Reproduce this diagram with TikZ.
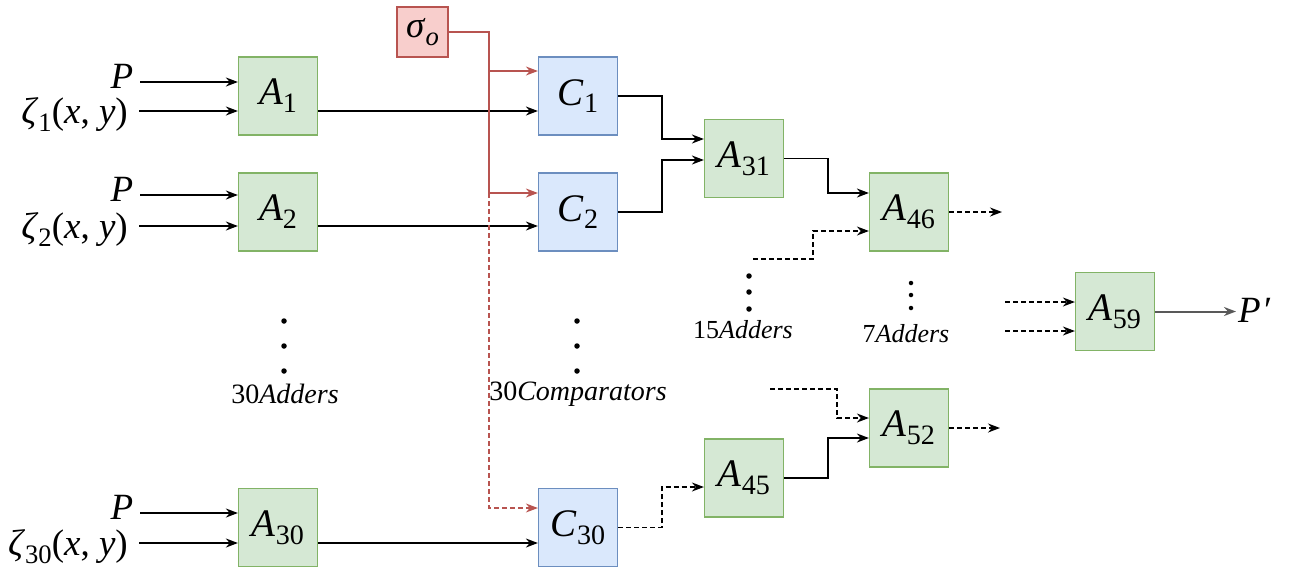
\documentclass[tikz,border=0pt]{standalone}
\usepackage{fontspec}
\setmainfont{Liberation Serif}
\usetikzlibrary{arrows.meta}
\definecolor{gfill}{HTML}{D5E8D4}
\definecolor{gdraw}{HTML}{82B366}
\definecolor{bfill}{HTML}{DAE8FC}
\definecolor{bdraw}{HTML}{6C8EBF}
\definecolor{rfill}{HTML}{F8CECC}
\definecolor{rdraw}{HTML}{B85450}
\newcommand\sbs[1]{\raisebox{-0.2em}{\scalebox{0.72}{#1}}}
\tikzset{
  box/.style={draw, line width=1.2pt, minimum width=79pt, minimum height=78pt, inner sep=0pt, font=\fontsize{39}{40}\selectfont},
  adder/.style={box, fill=gfill, draw=gdraw},
  comp/.style={box, fill=bfill, draw=bdraw},
  sig/.style={draw=rdraw, fill=rfill, line width=1.2pt, minimum width=51pt, minimum height=50pt, inner sep=0pt, font=\fontsize{37}{38}\selectfont},
  arr/.style={line width=1.7pt, -{Stealth[length=12pt,width=9pt]}},
  dasharr/.style={arr, line width=1.4pt, dash pattern=on 5pt off 3pt},
  redline/.style={line width=1.7pt, draw=rdraw},
  redarr/.style={line width=1.6pt, draw=rdraw, -{Stealth[length=12pt,width=9pt]}},
  lab/.style={font=\fontsize{37}{38}\selectfont, inner xsep=5pt, inner ysep=0pt},
  small/.style={font=\fontsize{28}{30}\selectfont, inner sep=0pt},
  bigdot/.style={circle, fill=black, inner sep=0pt, minimum size=5.5pt},
  smalldot/.style={circle, fill=black, inner sep=0pt, minimum size=4.5pt},
}
\begin{document}
\begin{tikzpicture}[x=1pt,y=-1pt]
\useasboundingbox (0,0) rectangle (1291,571);

% boxes
\node[adder] (A1) at (278,96) {\textit{A}\sbs{1}};
\node[adder] (A2) at (278,212) {\textit{A}\sbs{2}};
\node[adder] (A30) at (278,527.5) {\textit{A}\sbs{30}};
\node[comp] (C1) at (578,96) {\textit{C}\sbs{1}};
\node[comp] (C2) at (578,212) {\textit{C}\sbs{2}};
\node[comp] (C30) at (578,527.5) {\textit{C}\sbs{30}};
\node[adder] (A31) at (744,158.5) {\textit{A}\sbs{31}};
\node[adder] (A46) at (909,212) {\textit{A}\sbs{46}};
\node[adder] (A45) at (744,478) {\textit{A}\sbs{45}};
\node[adder] (A52) at (909,428) {\textit{A}\sbs{52}};
\node[adder] (A59) at (1115,311.5) {\textit{A}\sbs{59}};
\node[sig] (S) at (422.5,32) {\textit{σ}\sbs{\textit{o}}};

% input labels
\node[lab, anchor=east, inner xsep=3.5pt] (P1) at (137,76) {\textit{P}};
\node[lab, anchor=east] (Z1) at (133,115) {\textit{ζ}\sbs{1}(\textit{x}, \textit{y})};
\node[lab, anchor=east, inner xsep=3.5pt] (P2) at (137,189) {\textit{P}};
\node[lab, anchor=east] (Z2) at (133,230) {\textit{ζ}\sbs{2}(\textit{x}, \textit{y})};
\node[lab, anchor=east, inner xsep=3.5pt] (P30) at (137,507) {\textit{P}};
\node[lab, anchor=east] (Z30) at (133,547) {\textit{ζ}\sbs{30}(\textit{x}, \textit{y})};
\node[lab, anchor=west, inner xsep=2pt] (Pp) at (1236,310) {\textit{P}\kern1pt\textit{′}};

% input arrow start points
\coordinate (p1s) at (140,82);
\coordinate (z1s) at (139,111);
\coordinate (p2s) at (140,195);
\coordinate (z2s) at (139,226);
\coordinate (p30s) at (140,513);
\coordinate (z30s) at (139,543);

% input arrows
\draw[arr] (p1s) -- (A1.west |- p1s);
\draw[arr] (z1s) -- (A1.west |- z1s);
\draw[arr] (p2s) -- (A2.west |- p2s);
\draw[arr] (z2s) -- (A2.west |- z2s);
\draw[arr] (p30s) -- (A30.west |- p30s);
\draw[arr] (z30s) -- (A30.west |- z30s);

% adders to comparators
\draw[arr] (A1.east |- z1s) -- (C1.west |- z1s);
\draw[arr] (A2.east |- z2s) -- (C2.west |- z2s);
\draw[arr] (A30.east |- z30s) -- (C30.west |- z30s);

% sigma distribution
\coordinate (r1) at (489,71);
\coordinate (r2) at (489,193);
\coordinate (r3) at (489,508);
\draw[redline] (S.east) -| (r2);
\draw[redarr] (r1) -- (C1.west |- r1);
\draw[redarr] (r2) -- (C2.west |- r2);
\draw[redarr, line width=1.2pt, dash pattern=on 5pt off 3pt] (r2) |- (C30.west |- r3);

% comparator tree
\coordinate (j1) at (662,139);
\coordinate (j2) at (662,160);
\coordinate (j3) at (828,193);
\coordinate (d1) at (753,259);
\coordinate (j4) at (813,231);
\coordinate (o1) at (1002,212);
\coordinate (d2) at (770,389);
\coordinate (j5) at (837,418);
\coordinate (j6) at (828,438);
\coordinate (o2) at (1000,428);
\coordinate (j7) at (662,487);
\coordinate (i1) at (1005,302);
\coordinate (i2) at (1005,331);

\draw[arr] (C1.east) -| (j1) -- (A31.west |- j1);
\draw[arr] (C2.east) -| (j2) -- (A31.west |- j2);
\draw[arr] (A31.east) -| (j3) -- (A46.west |- j3);
\draw[dasharr] (d1) -| (j4) -- (A46.west |- j4);
\draw[dasharr] (A46.east) -- (o1);
\draw[dasharr] (d2) -| (j5) -- (A52.west |- j5);
\draw[arr] (A45.east) -| (j6) -- (A52.west |- j6);
\draw[dasharr] (A52.east) -- (o2);
\draw[dasharr] (C30.east) -| (j7) -- (A45.west |- j7);
\draw[dasharr] (i1) -- (A59.west |- i1);
\draw[dasharr] (i2) -- (A59.west |- i2);
\draw[arr, line width=2pt, draw=black!65] (A59.east) -- (Pp.west |- A59.east);

% dots and counts
\node[bigdot] (a1) at (284,321) {};
\node[bigdot] (a2) at (284,346) {};
\node[bigdot] (a3) at (284,371) {};
\node[small] (la) at (285,394) {30\textit{Adders}};
\node[bigdot] (c1) at (577,321) {};
\node[bigdot] (c2) at (577,346) {};
\node[bigdot] (c3) at (577,371) {};
\node[small] (lc) at (578,394) {30\textit{Comparators}};
\node[bigdot] (f1) at (749,276) {};
\node[bigdot] (f2) at (749,292) {};
\node[bigdot] (f3) at (749,309) {};
\node[small, font=\fontsize{26}{28}\selectfont] (lf) at (743,330) {15\textit{Adders}};
\node[smalldot] (s1) at (911,283) {};
\node[smalldot] (s2) at (911,295) {};
\node[smalldot] (s3) at (911,308) {};
\node[small, font=\fontsize{26}{28}\selectfont] (ls) at (906,334) {7\textit{Adders}};
\end{tikzpicture}
\end{document}
